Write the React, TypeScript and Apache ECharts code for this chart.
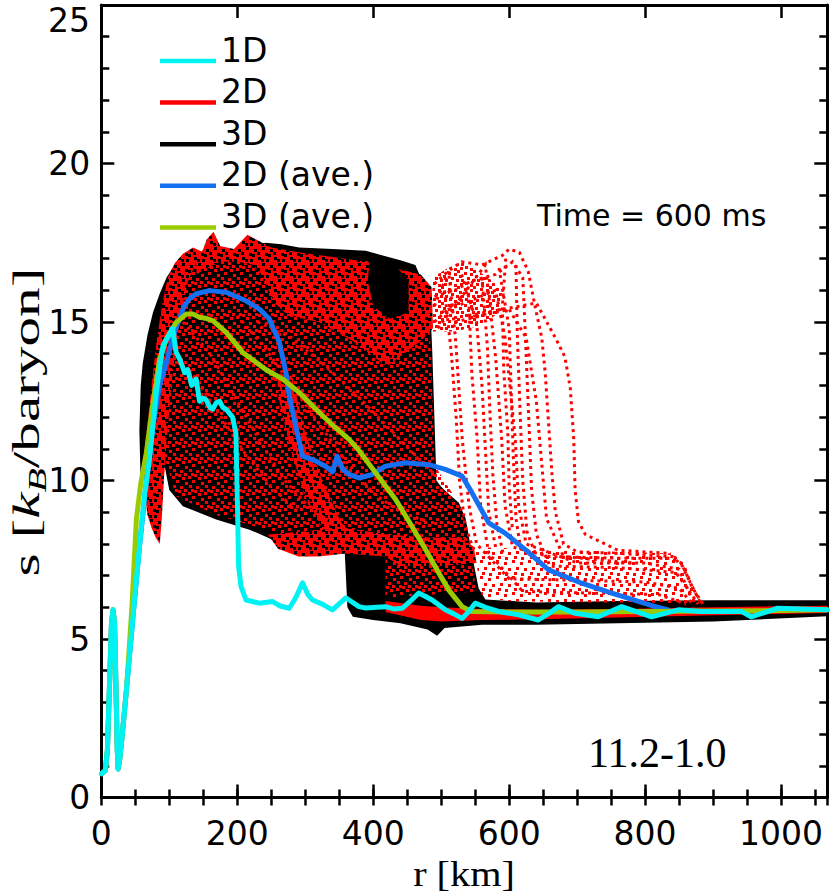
import React, { useEffect, useRef } from "react";
import * as echarts from "echarts";

// ---------- labels ----------
const legendLabels = ["1D", "2D", "3D", "2D (ave.)", "3D (ave.)"];
const legendColors = ["#00f2f2", "#ff0000", "#000000", "#1470f0", "#99cc00"];
const timeLabel = "Time = 600 ms";
const modelLabel = "11.2-1.0";
const xTitle = "r [km]";

// ---------- 1D ----------
const oneD: number[][] = [
  [0.3, 0.75], [6, 0.85], [9, 1.5], [12, 3.5], [15, 5.5], [17.3, 5.92], [19.5, 5.5], [21.5, 3.5], [23.5, 1.5], [24.7, 0.9],
  [27, 1.2], [30, 1.8], [37, 3.4], [47, 5.8], [56.5, 8.0], [64, 9.6], [71, 10.7], [81, 12.8], [90.7, 14.25], [105, 14.8],
  [110, 14.05], [116, 13.8], [122.5, 13.4], [127, 13.5], [133, 13.0], [139.6, 13.2], [144.5, 12.5], [150, 12.6], [154, 12.55],
  [160, 12.3], [164, 12.25], [169, 12.45], [174, 12.5], [179, 12.3], [183.6, 12.25], [193, 12.0], [198, 11.5], [200.7, 8.8],
  [202, 7.3], [205.6, 6.65], [213, 6.23], [232.5, 6.13], [252, 6.18], [262, 6.05], [276.5, 5.97], [286, 6.3], [296, 6.77],
  [304, 6.4], [310.7, 6.23], [325, 6.1], [340, 5.92], [359.7, 6.3], [364.5, 6.23], [379, 6.02], [389, 5.98], [405, 6.0],
  [418, 6.02], [430, 5.95], [443, 5.97], [455, 6.2], [467, 6.45], [486.7, 6.23], [506, 5.92], [518, 5.8], [530.7, 5.65],
  [540, 5.85], [550, 6.13], [565, 6.0], [584.6, 5.87], [614, 5.76], [643, 5.6], [658, 5.8], [672.6, 6.02], [697, 5.81],
  [731, 5.7], [765.5, 6.02], [809.5, 5.7], [848.6, 5.92], [882.8, 5.87], [917, 5.87], [941.5, 5.87], [956, 5.7],
  [995, 5.97], [1068, 5.92],
];

// ---------- 2D angle average ----------
const twoDave: number[][] = [
  [0.3, 0.75], [6, 0.85], [9, 1.5], [12, 3.5], [15, 5.5], [17.3, 5.92], [19.5, 5.5], [21.5, 3.5], [23.5, 1.5], [24.7, 0.9],
  [27, 1.2], [30, 1.8], [37, 3.4], [47, 5.8], [56.5, 8.0], [66, 9.9], [76, 11.7], [85.8, 13.0], [95.6, 13.7], [105, 14.5],
  [115, 15.1], [122, 15.5], [129.8, 15.73], [139.6, 15.89], [159, 15.99], [183.6, 15.94], [213, 15.67], [232.5, 15.41],
  [247, 15.1], [262, 14.36], [271.7, 13.4], [276.5, 12.67], [286, 11.72], [296, 10.77], [310.7, 10.66], [330, 10.45],
  [340, 10.27], [347, 10.77], [354.7, 10.37], [364.5, 10.19], [379, 10.08], [398.7, 10.19], [418, 10.45], [447.7, 10.56],
  [482, 10.5], [506, 10.35], [530.7, 10.14], [545.4, 9.61], [570, 8.66], [594, 8.34], [623.7, 7.82], [658, 7.18],
  [706.8, 6.76], [750.8, 6.45], [775, 6.29], [810, 6.05], [834, 5.92],
];

// ---------- 3D angle average ----------
const threeDave: number[][] = [
  [0.3, 0.75], [6, 0.85], [9, 1.5], [12, 3.5], [15, 5.5], [17.3, 5.92], [19.5, 5.5], [21.5, 3.5], [23.5, 1.5], [24.7, 0.9],
  [27, 1.2], [30, 1.8], [37, 3.4], [45, 6.0], [51.6, 8.77], [58, 9.9], [66.3, 10.88], [76, 12.46], [85.8, 13.83],
  [95.6, 14.46], [110.3, 14.99], [125, 15.25], [134.7, 15.25], [144.5, 15.15], [153, 15.12], [164, 15.04], [183.6, 14.67],
  [208, 14.04], [242, 13.5], [266.7, 13.2], [291, 12.78], [315.7, 12.25], [340, 11.75], [364.5, 11.3], [379, 10.95],
  [403.7, 10.24], [433, 9.4], [457, 8.55], [477, 7.82], [496.5, 7.08], [511, 6.55], [530.7, 6.02], [545.4, 5.87],
  [600, 5.85], [700, 5.85], [800, 5.87], [900, 5.88], [1000, 5.9], [1068, 5.92],
];

// ---------- 3D point cloud (dense, drawn as filled outlines) ----------
const cloud3DBody: number[][] = [
  [58, 9.8], [56, 11.6], [58, 13.0], [61, 13.7], [68, 14.6], [76, 15.3], [86, 15.9], [96, 16.4], [108, 16.8], [120, 17.1],
  [130, 17.2], [150, 17.1], [180, 17.2], [210, 17.35], [242, 17.5], [265, 17.45], [291, 17.35], [340, 17.3], [389, 17.25],
  [414, 17.1], [440, 16.95], [462, 16.8], [477, 16.05], [484, 15.5], [487, 14.0], [490, 12.0], [493, 10.0], [500, 9.8],
  [510, 9.6], [526, 9.3], [536, 8.8], [545, 7.7], [555, 6.6], [565, 6.25], [640, 6.15], [760, 6.2], [900, 6.22],
  [1068, 6.22], [1068, 5.72], [900, 5.55], [760, 5.5], [640, 5.45], [560, 5.45], [505, 5.35], [494, 5.1], [480, 5.3],
  [440, 5.5], [400, 5.6], [370, 5.7], [362, 6.0], [358, 7.8], [350, 8.0], [330, 8.1], [300, 8.1], [275, 8.2], [252, 8.13],
  [218, 8.45], [169, 8.77], [120, 9.19], [100, 9.7], [92, 10.6], [80, 10.8], [66, 10.4],
];
const cloud3DPatch: number[][] = [
  [395, 16.95], [432, 16.8], [452, 16.3], [452, 15.3], [425, 15.1], [400, 15.5], [392, 16.3],
];

// ---------- 2D point cloud ----------
const cloud2DMixed: number[][] = [
  [95, 16.2], [130, 16.9], [200, 17.1], [300, 17.1], [400, 16.9], [478, 16.4], [485, 14.0], [490, 10.5], [528, 9.2],
  [543, 7.7], [552, 6.5], [418, 6.3], [418, 7.8], [360, 8.0], [250, 8.4], [170, 8.9], [110, 9.5], [92, 10.8],
];
const cloud2DFlank: number[][] = [
  [62, 10.6], [64, 9.6], [68, 8.9], [74, 8.5], [80, 8.2], [86, 8.0], [89, 8.8], [92, 10.0], [97, 11.5], [103, 13.0],
  [110, 14.3], [118, 15.4], [128, 16.3], [140, 16.9], [150, 17.2], [135, 17.35], [120, 17.15], [108, 16.85], [98, 16.4],
  [90, 15.6], [82, 14.5], [75, 13.2], [69, 12.0],
];
const cloud2DCap: number[][] = [
  [140, 17.0], [150, 17.3], [155, 17.6], [165, 17.85], [175, 17.4], [195, 17.3], [215, 17.75], [228, 17.6], [250, 17.35],
  [290, 17.2], [340, 17.05], [390, 16.9], [430, 16.7], [470, 16.5], [486, 16.1], [488, 14.8], [470, 14.4], [445, 14.0],
  [420, 13.6], [395, 14.0], [370, 14.4], [345, 14.7], [320, 15.0], [295, 15.1], [270, 15.3], [255, 15.6], [240, 16.3],
  [225, 16.8], [200, 16.9], [175, 16.9], [155, 16.7], [140, 16.5],
];
const cloud2DStreak: number[][] = [
  [258, 13.4], [280, 13.3], [300, 11.5], [325, 10.0], [350, 8.8], [372, 8.0], [352, 7.9], [325, 8.5], [300, 9.5],
  [278, 11.0], [262, 12.5],
];
const cloud2DLowBand: number[][] = [
  [245, 8.3], [300, 8.4], [360, 8.5], [420, 8.3], [480, 8.2], [530, 8.2], [548, 7.9], [552, 7.4], [500, 7.3], [440, 7.3],
  [418, 7.6], [360, 7.7], [320, 7.6], [290, 7.6], [260, 7.85],
];
const cloud2DBottom: number[][] = [
  [418, 6.2], [470, 6.05], [500, 6.0], [560, 5.95], [640, 5.92], [760, 5.95], [900, 6.0], [1068, 6.05], [1068, 5.82],
  [900, 5.75], [760, 5.68], [640, 5.62], [560, 5.6], [500, 5.55], [470, 5.6], [418, 5.85],
];
const cloud2DOuterTop: number[][] = [
  [487, 16.4], [510, 16.7], [530, 16.9], [555, 16.6], [575, 16.3], [590, 16.0], [585, 15.3], [560, 14.9],
  [520, 14.7], [488, 14.7],
];
const cloud2DShelf: number[][] = [
  [548, 7.9], [620, 7.85], [700, 7.8], [760, 7.75], [840, 7.7], [858, 7.4], [872, 6.6], [886, 6.1], [800, 6.15],
  [700, 6.15], [600, 6.2], [560, 6.3],
];

// ---------- 2D point cloud: individual dotted rays ----------
const rays2D: number[][][] = [
  [[490, 16.2], [510, 16.6], [530, 16.9], [560, 16.8], [590, 17.1], [600, 17.3], [615, 17.2], [628, 16.6], [638, 15.5], [648, 14.5], [653, 13.4], [658, 11.8], [663, 10.2], [668, 9.0], [680, 8.0], [700, 7.75], [760, 7.7], [840, 7.6], [855, 7.3], [870, 6.6], [885, 6.1]],
  [[490, 15.8], [520, 16.0], [545, 16.3], [580, 16.5], [605, 16.9], [620, 16.4], [623, 15.0], [628, 12.4], [633, 9.7], [640, 8.3], [660, 7.3], [760, 7.25], [845, 7.1], [862, 6.6], [878, 6.1]],
  [[490, 15.5], [511, 16.6], [521, 14.5], [531, 11.3], [541, 9.2], [552, 8.0], [600, 6.9], [700, 6.85], [800, 6.8], [850, 6.6], [870, 6.1]],
  [[490, 15.0], [540, 16.0], [545, 13.4], [553, 11.3], [558, 9.2], [570, 7.7], [620, 6.5], [720, 6.45], [820, 6.4], [860, 6.1]],
  [[495, 14.8], [565, 16.8], [580, 13.9], [589, 11.3], [594, 9.2], [605, 7.9], [660, 7.6], [760, 7.55], [838, 7.55], [853, 7.4], [866, 6.8], [880, 6.2]],
  [[500, 15.3], [580, 16.0], [594, 14.5], [609, 11.3], [614, 9.2], [625, 8.0], [700, 7.4], [800, 7.4], [850, 7.2], [868, 6.3]],
  [[540, 15.2], [640, 15.6], [668, 14.5], [682, 13.9], [690, 12.9], [695, 11.3], [697, 9.7], [702, 8.7], [712, 8.3], [760, 7.8], [838, 7.7]],
  [[520, 15.0], [600, 15.4], [625, 14.5], [640, 12.5], [648, 10.5], [655, 8.8], [680, 7.6], [780, 7.4]],
  [[505, 16.0], [515, 14.0], [522, 12.0], [527, 10.0], [535, 8.6], [548, 7.8]],
  [[560, 16.4], [568, 14.2], [572, 12.0], [576, 10.2], [582, 8.6], [592, 7.6]],
  [[585, 16.7], [600, 14.8], [603, 12.8], [606, 10.8], [610, 8.8], [618, 7.7]],
  [[610, 16.8], [612, 14.6], [616, 12.2], [620, 10.0], [626, 8.4], [640, 7.6]],
  [[530, 16.5], [552, 15.0], [560, 13.0], [565, 11.0], [570, 9.0], [580, 7.9]],
  [[595, 17.0], [590, 15.5], [592, 13.5], [598, 11.5], [600, 9.8], [605, 8.4]],
  [[120, 15.0], [160, 14.0], [200, 12.5], [240, 11.0], [270, 10.0], [300, 9.3], [340, 8.6]],
  [[130, 13.5], [170, 12.2], [210, 10.9], [250, 9.8], [290, 9.0]],
  [[200, 15.2], [240, 14.2], [280, 13.0], [320, 11.8], [360, 10.6], [400, 9.6], [440, 9.0], [480, 8.7]],
  [[230, 15.0], [280, 14.5], [330, 13.6], [380, 12.6], [430, 11.5], [470, 10.6], [490, 10.2]],
];

const X_MAX = 1068;

function polySeries(polys: number[][][], fill: any) {
  return {
    type: "custom",
    silent: true,
    clip: true,
    data: polys.map((p, i) => [p[0][0], p[0][1], i]),
    encode: { x: 0, y: 1 },
    renderItem: (_p: any, api: any) => {
      const poly = polys[api.value(2)];
      return {
        type: "polygon",
        shape: { points: poly.map((v) => api.coord(v)) },
        style: { fill, stroke: "none" },
      };
    },
  };
}

function raySeries(rays: number[][][]) {
  return {
    type: "custom",
    silent: true,
    clip: true,
    data: rays.map((p, i) => [p[0][0], p[0][1], i]),
    encode: { x: 0, y: 1 },
    renderItem: (_p: any, api: any) => {
      const ray = rays[api.value(2)];
      return {
        type: "polyline",
        shape: { points: ray.map((v) => api.coord(v)) },
        style: { stroke: "#ff0000", fill: "none", lineWidth: 3, lineDash: [3, 4] },
      };
    },
  };
}

// fill tiles that imitate a dense scatter of point markers (offsets in px inside a 16px tile)
const mixedDots = [[0, 0], [9, 2], [4, 6], [13, 5], [2, 10], [8, 9], [6, 13], [12, 12], [15, 9]];
const denseDots = [[2, 1], [10, 3], [6, 7], [14, 9], [1, 12], [9, 13], [5, 3], [12, 14]];
const outerDots = [[0, 0], [6, 1], [11, 3], [3, 5], [8, 7], [13, 7], [1, 10], [6, 12], [12, 11], [9, 14]];
const shelfDots = [[0, 0], [8, 2], [4, 7], [12, 8], [2, 12], [9, 13]];

function dotPattern(dots: number[][], dot: number, color: string, bg?: string) {
  const size = 16;
  const c = document.createElement("canvas");
  c.width = size;
  c.height = size;
  const g = c.getContext("2d") as CanvasRenderingContext2D;
  if (bg) {
    g.fillStyle = bg;
    g.fillRect(0, 0, size, size);
  }
  g.fillStyle = color;
  dots.forEach(([x, y]) => {
    g.fillRect(x, y, dot, dot);
    if (x + dot > size) g.fillRect(x - size, y, dot, dot);
    if (y + dot > size) g.fillRect(x, y - size, dot, dot);
  });
  return { image: c, repeat: "repeat", imageWidth: size, imageHeight: size };
}

const tickStyle = { color: "#000", width: 2.5 };
const axisLineStyle = { show: true, onZero: false, lineStyle: { color: "#000", width: 3 } };
const sansLabel = { fontFamily: "DejaVu Sans", fontSize: 33, color: "#000" };

function xAxes() {
  const base = { type: "value", min: 0, max: X_MAX, splitLine: { show: false } };
  const major = (pos: string, labels: boolean) => ({
    ...base,
    position: pos,
    interval: 200,
    axisLine: axisLineStyle,
    axisTick: { show: true, inside: true, length: 13, lineStyle: tickStyle },
    axisLabel: labels
      ? { show: true, margin: 19, ...sansLabel, formatter: (v: number) => (v % 200 === 0 ? String(v) : "") }
      : { show: false },
  });
  const minor = (pos: string) => ({
    ...base,
    position: pos,
    interval: 50,
    axisLine: { show: false },
    axisTick: { show: true, inside: true, length: 8, lineStyle: tickStyle },
    axisLabel: { show: false },
  });
  return [major("bottom", true), major("top", false), minor("bottom"), minor("top")];
}

function yAxes() {
  const base = {
    type: "value",
    min: 0,
    max: 25,
    interval: 5,
    splitLine: { show: false },
    axisLine: axisLineStyle,
    axisTick: { show: true, inside: true, length: 13, lineStyle: tickStyle },
    minorTick: { show: true, splitNumber: 5, length: 8, lineStyle: tickStyle },
  };
  return [
    {
      ...base,
      position: "left",
      axisLabel: { show: true, margin: 11, ...sansLabel, formatter: (v: number) => (v === 25 ? "" : String(v)) },
    },
    { ...base, position: "right", axisLabel: { show: false } },
  ];
}

export default function App() {
  const ref = useRef<HTMLDivElement>(null);
  useEffect(() => {
    document.body.style.margin = "0";
    if (!ref.current) return;
    const chart = echarts.init(ref.current, null, { renderer: "svg" });

    const mixedFill = dotPattern(mixedDots, 3, "#ff0000");
    const denseFill = dotPattern(denseDots, 3, "#000000", "#ff0000");
    const outerFill = dotPattern(outerDots, 3, "#ff0000");
    const shelfFill = dotPattern(shelfDots, 3, "#ff0000");

    const graphic: any[] = [];
    legendLabels.forEach((label, i) => {
      graphic.push({
        type: "line",
        shape: { x1: 160, y1: 61 + i * 41.6, x2: 216, y2: 61 + i * 41.6 },
        style: { stroke: legendColors[i], lineWidth: 4.5 },
      });
      graphic.push({
        type: "text",
        x: 221,
        y: 50 + i * 41.6,
        style: { text: label, fontFamily: "DejaVu Sans", fontSize: 33, fill: "#000", align: "left", verticalAlign: "middle" },
      });
    });
    graphic.push({
      type: "text",
      x: 537,
      y: 215,
      style: { text: timeLabel, fontFamily: "DejaVu Sans", fontSize: 30, fill: "#000", align: "left", verticalAlign: "middle" },
    });
    graphic.push({
      type: "text",
      x: 588,
      y: 753,
      style: { text: modelLabel, fontFamily: "Liberation Serif", fontSize: 42, fill: "#000", align: "left", verticalAlign: "middle" },
    });
    graphic.push({
      type: "text",
      x: 90,
      y: 20,
      style: { text: "25", fontFamily: "DejaVu Sans", fontSize: 33, fill: "#000", align: "right", verticalAlign: "middle" },
    });
    graphic.push({
      type: "text",
      x: 464,
      y: 874,
      scaleX: 1.15,
      style: { text: xTitle, fontFamily: "Liberation Serif", fontSize: 35, fill: "#000", align: "center", verticalAlign: "middle" },
    });
    graphic.push({
      type: "text",
      x: 27,
      y: 422,
      rotation: Math.PI / 2,
      scaleX: 1.6,
      style: {
        text: "s [{k|k}{b|B}/baryon]",
        fontFamily: "Liberation Serif",
        fontSize: 37,
        lineHeight: 46,
        fill: "#000",
        align: "center",
        verticalAlign: "middle",
        rich: {
          k: { fontFamily: "Liberation Serif", fontStyle: "italic", fontSize: 37, lineHeight: 46, fill: "#000" },
          b: { fontFamily: "Liberation Serif", fontStyle: "italic", fontSize: 25, lineHeight: 25, verticalAlign: "bottom", fill: "#000" },
        },
      },
    });

    const lineSeries = (name: string, data: number[][], color: string) => ({
      type: "line",
      name,
      data,
      showSymbol: false,
      symbol: "none",
      silent: true,
      lineStyle: { color, width: 5, join: "round", cap: "round" },
      itemStyle: { color },
    });

    chart.setOption({
      animation: false,
      backgroundColor: "#ffffff",
      grid: { left: 101.3, right: 2.7, top: 5, bottom: 97.5, containLabel: false, outerBoundsMode: "none" },
      xAxis: xAxes(),
      yAxis: yAxes(),
      graphic,
      series: [
        polySeries([cloud3DBody], "#000000"),
        polySeries([cloud2DMixed], mixedFill),
        polySeries([cloud2DFlank, cloud2DCap, cloud2DStreak, cloud2DLowBand], denseFill),
        polySeries([cloud2DBottom], "#ff0000"),
        polySeries([cloud3DPatch], "#000000"),
        polySeries([cloud2DOuterTop], outerFill),
        polySeries([cloud2DShelf], shelfFill),
        raySeries(rays2D),
        lineSeries(legendLabels[3], twoDave, legendColors[3]),
        lineSeries(legendLabels[4], threeDave, legendColors[4]),
        lineSeries(legendLabels[0], oneD, legendColors[0]),
      ],
    } as any);

    return () => chart.dispose();
  }, []);
  return <div ref={ref} style={{ width: 830, height: 895 }} />;
}
